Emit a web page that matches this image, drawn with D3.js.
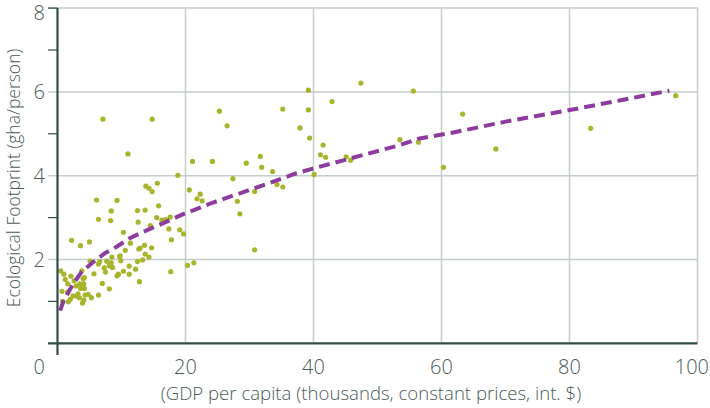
<!DOCTYPE html>
<html>
<head>
<meta charset="utf-8">
<script src="https://cdn.jsdelivr.net/npm/d3@7"></script>
<style>
  html, body { margin: 0; padding: 0; background: #ffffff; }
  svg { display: block; }
  text { font-family: "Open Sans", "Noto Sans", sans-serif; font-weight: 300; fill: #4a5c57; }
</style>
</head>
<body>
<svg id="chart" width="710" height="408"></svg>
<script>
// ---- data ----
const gdp = [39.2,47.4,55.6,42.9,39.2,37.9,39.4,41.5,41.1,41.9,45.1,45.8,40.1,53.5,56.4,63.3,60.3,68.5,83.3,96.6,
  35.2,25.3,14.8,26.5,21.1,24.2,29.5,31.7,31.9,33.6,18.8,27.4,34.3,35.2,13.8,14.3,14.8,15.6,20.6,30.8,
  22.3,21.8,22.6,28.1,13.7,15.8,28.5,15.5,16.3,16.9,17.6,14.5,17.4,19.1,19.7,17.8,13.6,14.7,12.9,13.7,
  14.3,13.3,30.8,20.3,21.3,17.7,7.1,11.0,6.1,9.3,6.4,8.3,8.4,12.5,12.6,2.2,3.6,5.0,10.3,11.4,
  10.6,9.8,12.7,5.1,6.6,7.7,8.4,3.8,5.7,7.3,7.5,8.6,9.3,10.3,11.2,11.2,12.2,12.8,7.0,8.1,
  6.4,5.3,0.5,1.0,1.2,1.6,2.1,2.6,0.7,1.6,0.8,1.7,2.4,2.9,3.2,3.6,3.5,4.1,4.2,3.4,
  4.1,4.3,3.9,4.0,4.2,4.8,3.0,2.0,9.7,9.9,9.5,12.5,8.5,6.4,8.1];
const footprint = [6.04,6.21,6.02,5.77,5.57,5.14,4.90,4.73,4.50,4.44,4.45,4.37,4.03,4.86,4.80,5.47,4.20,4.64,5.13,5.91,
  5.59,5.54,5.35,5.19,4.34,4.34,4.30,4.46,4.20,4.10,4.01,3.93,3.79,3.73,3.75,3.70,3.62,3.82,3.66,3.62,
  3.56,3.45,3.40,3.39,3.18,3.28,3.09,3.00,2.94,2.95,3.01,2.81,2.73,2.71,2.61,2.47,2.34,2.28,2.27,2.13,
  2.06,1.99,2.23,1.86,1.92,1.71,5.35,4.52,3.42,3.41,2.96,2.93,3.16,3.17,2.89,2.46,2.33,2.42,2.65,2.39,
  2.22,2.09,2.25,1.96,1.95,1.96,1.92,1.73,1.66,1.80,1.70,1.81,1.61,1.72,1.84,1.65,1.77,1.47,1.43,1.30,
  1.15,1.09,1.73,1.65,1.52,1.42,1.60,1.49,1.24,1.22,1.00,0.99,1.13,1.37,1.18,1.31,1.42,1.42,1.31,1.09,
  1.03,1.15,0.96,1.54,1.57,1.17,1.13,1.05,2.07,1.97,1.65,1.95,2.06,1.89,1.85];
const trendGdp = [0.4,1,2.5,3.8,5.6,7.4,9.3,11.3,13.4,15.5,17.6,19.9,22,24.3,28.5,32.7,36.8,39.2,45.7,53.5,56.6,61.5,70,79.8,88,95.6];
const trendFootprint = [0.78,1.03,1.43,1.71,1.94,2.15,2.31,2.51,2.66,2.80,2.94,3.10,3.22,3.36,3.58,3.80,4.03,4.14,4.41,4.73,4.89,5.02,5.29,5.56,5.80,6.03];
const xTicks = [20,40,60,80,100];
const yTicks = [2,4,6,8];
const yMinorTicks = [1,3,5,7];
const xTitle = "(GDP per capita (thousands, constant prices, int. $)";
const yTitle = "Ecological Footprint (gha/person)";

// ---- scales ----
const x = d3.scaleLinear().domain([0,100]).range([57.5,697.5]);
const y = d3.scaleLinear().domain([0,8]).range([343.3,8.1]);

const svg = d3.select("#chart");
const gridColor = "#c4cecc";
const axisColor = "#2f4d46";

// gridlines
svg.append("g").selectAll("line").data(yTicks).join("line")
  .attr("x1", 48).attr("x2", x(100))
  .attr("y1", d => y(d)).attr("y2", d => y(d))
  .attr("stroke", gridColor).attr("stroke-width", 1.5);
svg.append("g").selectAll("line").data(xTicks).join("line")
  .attr("x1", d => x(d)).attr("x2", d => x(d))
  .attr("y1", y(8)).attr("y2", y(0))
  .attr("stroke", gridColor).attr("stroke-width", 1.5);

// minor ticks on y
svg.append("g").selectAll("line").data(yMinorTicks.concat([8])).join("line")
  .attr("x1", 48).attr("x2", x(0))
  .attr("y1", d => y(d)).attr("y2", d => y(d))
  .attr("stroke", axisColor).attr("stroke-width", 1.2);

// dots
svg.append("g").selectAll("circle").data(gdp.map((g,i)=>[g, footprint[i]])).join("circle")
  .attr("cx", d => x(d[0])).attr("cy", d => y(d[1])).attr("r", 2.6)
  .attr("fill", "#a8b52c");

// trend line
const line = d3.line().x(d => x(d[0])).y(d => y(d[1]));
svg.append("path")
  .datum(trendGdp.map((g,i)=>[g, trendFootprint[i]]))
  .attr("d", line)
  .attr("fill", "none").attr("stroke", "#8e3b9e").attr("stroke-width", 4)
  .attr("stroke-dasharray", "11,6");

// axes lines
svg.append("line").attr("x1", x(0)).attr("x2", x(0)).attr("y1", y(8)).attr("y2", 355)
  .attr("stroke", axisColor).attr("stroke-width", 2.2);
svg.append("line").attr("x1", 48).attr("x2", x(100)).attr("y1", y(0)).attr("y2", y(0))
  .attr("stroke", axisColor).attr("stroke-width", 2.2);

// tick labels
svg.append("g").selectAll("text").data(yTicks).join("text")
  .attr("x", 45).attr("y", d => y(d) + (d === 8 ? 5 : 0)).attr("dy", "0.36em")
  .attr("text-anchor", "end").attr("font-size", 20).text(d => d);
svg.append("g").selectAll("text").data(xTicks).join("text")
  .attr("x", d => d === 100 ? 709 : x(d)).attr("y", 374)
  .attr("text-anchor", d => d === 100 ? "end" : "middle")
  .attr("font-size", 20).text(d => d);
svg.append("text").attr("x", 45).attr("y", 374).attr("text-anchor", "end")
  .attr("font-size", 20).text(0);

// titles
svg.append("text").attr("x", 371).attr("y", 400).attr("text-anchor", "middle")
  .attr("font-size", 18.6).text(xTitle);
svg.append("text").attr("transform", "translate(20,178) rotate(-90)")
  .attr("text-anchor", "middle").attr("font-size", 17.5).text(yTitle);
</script>
</body>
</html>
